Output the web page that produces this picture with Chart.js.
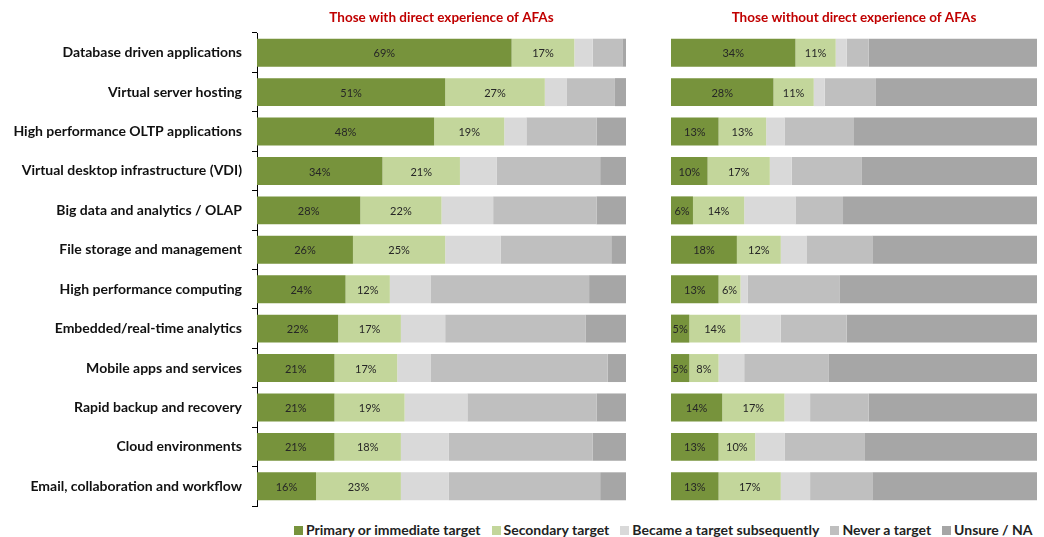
<!DOCTYPE html>
<html lang="en">
<head>
  <meta charset="UTF-8" />
  <title>AFA targets</title>
  <script src="https://cdn.jsdelivr.net/npm/chart.js"></script>
  <style>
    body {
      margin: 0;
      width: 1044px;
      height: 537px;
      background: #fff;
      font-family: 'Lato', sans-serif;
      position: relative;
      overflow: hidden;
    }
    .panel {
      position: absolute;
      top: 0;
      height: 510px;
    }
    #left-wrap { left: 0; width: 640px; }
    #right-wrap { left: 650px; width: 394px; }
    .legend {
      position: absolute;
      left: 294px;
      top: 521px;
      display: flex;
      gap: 11px;
      font-size: 14px;
      font-weight: bold;
      color: #222;
      white-space: nowrap;
    }
    .legend span.box {
      display: inline-block;
      width: 9px;
      height: 9px;
      margin-right: 3px;
      vertical-align: 0px;
    }
  </style>
</head>
<body>

  <div class="panel" id="left-wrap"><canvas id="leftChart"></canvas></div>
  <div class="panel" id="right-wrap"><canvas id="rightChart"></canvas></div>
  <div class="legend" id="legend"></div>

  <script>
    const categories = [
      'Database driven applications',
      'Virtual server hosting',
      'High performance OLTP applications',
      'Virtual desktop infrastructure (VDI)',
      'Big data and analytics / OLAP',
      'File storage and management',
      'High performance computing',
      'Embedded/real-time analytics',
      'Mobile apps and services',
      'Rapid backup and recovery',
      'Cloud environments',
      'Email, collaboration and workflow'
    ];
    const seriesNames = ['Primary or immediate target', 'Secondary target', 'Became a target subsequently', 'Never a target', 'Unsure / NA'];
    const seriesColors = ['#77933C', '#C3D69B', '#D9D9D9', '#BFBFBF', '#A6A6A6'];

    // those with direct experience
    const withPrimary   = [69, 51, 48, 34, 28, 26, 24, 22, 21, 21, 21, 16];
    const withSecondary = [17, 27, 19, 21, 22, 25, 12, 17, 17, 19, 18, 23];
    const withBecame    = [5, 6, 6, 10, 14, 15, 11, 12, 9, 17, 13, 13];
    const withNever     = [8, 13, 19, 28, 28, 30, 43, 38, 48, 35, 39, 41];
    const withUnsure    = [1, 3, 8, 7, 8, 4, 10, 11, 5, 8, 9, 7];

    // those without direct experience
    const withoutPrimary   = [34, 28, 13, 10, 6, 18, 13, 5, 5, 14, 13, 13];
    const withoutSecondary = [11, 11, 13, 17, 14, 12, 6, 14, 8, 17, 10, 17];
    const withoutBecame    = [3, 3, 5, 6, 14, 7, 2, 11, 7, 7, 8, 8];
    const withoutNever     = [6, 14, 19, 19, 13, 18, 25, 18, 23, 16, 22, 17];
    const withoutUnsure    = [46, 44, 50, 48, 53, 45, 54, 52, 57, 46, 47, 45];

    const leftTitle = 'Those with direct experience of AFAs';
    const rightTitle = 'Those without direct experience of AFAs';

    // draws the % labels inside the two green segments
    const valueLabels = {
      id: 'valueLabels',
      afterDatasetsDraw(chart) {
        const c = chart.ctx;
        c.save();
        c.font = '11px Lato, sans-serif';
        c.fillStyle = '#262626';
        c.textAlign = 'center';
        c.textBaseline = 'middle';
        [0, 1].forEach(i => {
          const meta = chart.getDatasetMeta(i);
          meta.data.forEach((bar, j) => {
            const v = chart.data.datasets[i].data[j];
            c.fillText(v + '%', (bar.x + bar.base) / 2, bar.y + 1);
          });
        });
        c.restore();
      }
    };

    // panel heading centred over the plot area
    const panelTitle = {
      id: 'panelTitle',
      afterDraw(chart, args, opts) {
        const c = chart.ctx;
        const area = chart.chartArea;
        c.save();
        c.font = 'bold 13.5px Lato, sans-serif';
        c.fillStyle = '#C00000';
        c.textAlign = 'center';
        c.textBaseline = 'middle';
        c.fillText(opts.text, (area.left + area.right) / 2, 18);
        c.restore();
      }
    };

    function makeDatasets(values) {
      return values.map((data, i) => ({
        label: seriesNames[i],
        data: data,
        backgroundColor: seriesColors[i],
        borderWidth: 0,
        barPercentage: 0.71,
        categoryPercentage: 1
      }));
    }

    function makeChart(id, values, title, showLabels, padding) {
      return new Chart(document.getElementById(id), {
        type: 'bar',
        data: { labels: categories, datasets: makeDatasets(values) },
        plugins: [valueLabels, panelTitle],
        options: {
          indexAxis: 'y',
          responsive: true,
          maintainAspectRatio: false,
          animation: false,
          layout: { padding: padding },
          plugins: {
            legend: { display: false },
            tooltip: { enabled: false },
            panelTitle: { text: title }
          },
          scales: {
            x: { stacked: true, min: 0, max: 100, display: false },
            y: {
              stacked: true,
              display: showLabels,
              border: { display: true, color: '#000', width: 1 },
              grid: { display: true, drawOnChartArea: false, drawTicks: true, tickLength: 5, color: '#000', offset: true },
              ticks: {
                padding: 10,
                color: '#111',
                font: { family: 'Lato', size: 14, weight: 'bold' }
              },
              afterFit(scale) {
                if (showLabels) scale.width = 257;
                scale.paddingTop = 0;
                scale.paddingBottom = 0;
              }
            }
          }
        }
      });
    }

    makeChart('leftChart',
      [withPrimary, withSecondary, withBecame, withNever, withUnsure],
      leftTitle, true, { top: 33, bottom: 4, left: 0, right: 14 });

    makeChart('rightChart',
      [withoutPrimary, withoutSecondary, withoutBecame, withoutNever, withoutUnsure],
      rightTitle, false, { top: 33, bottom: 4, left: 21, right: 7 });

    // legend across the bottom
    const legend = document.getElementById('legend');
    seriesNames.forEach((name, i) => {
      const item = document.createElement('div');
      item.innerHTML = `<span class="box" style="background:${seriesColors[i]}"></span>${name}`;
      legend.appendChild(item);
    });
  </script>

</body>
</html>
